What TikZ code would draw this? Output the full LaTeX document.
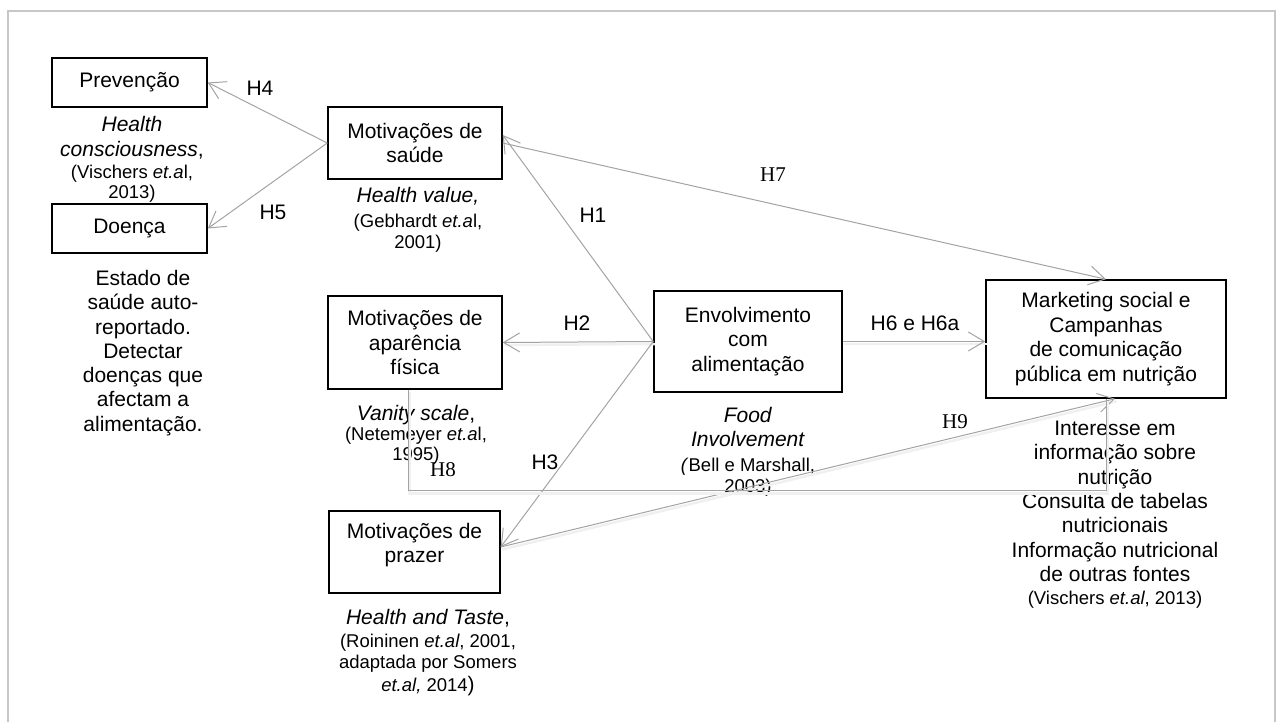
\documentclass[tikz,border=0pt]{standalone}
\usepackage{fontspec}
\setmainfont{Liberation Sans}
\newfontfamily\hserif{Liberation Serif}
\usetikzlibrary{arrows.meta}
\tikzset{
  box/.style={draw=black, line width=1.5pt, inner sep=0pt, align=center, font=\fontsize{21}{24.5}\selectfont},
  conn/.style={draw=black!36, line width=1pt, -{Straight Barb[length=16pt,width=19pt]}},
  plainconn/.style={draw=black!36, line width=1pt},
  shad/.style={preaction={draw=black!6, line width=2.5pt, arrows=-, transform canvas={xshift=1.5pt,yshift=-2.5pt}}},
  lab/.style={inner sep=0pt, font=\fontsize{21}{24.5}\selectfont},
  slab/.style={inner sep=0pt, font=\hserif\fontsize{21}{24.5}\selectfont},
  capnode/.style={inner sep=0pt, align=center, anchor=north, font=\fontsize{18.5}{21}\selectfont},
  bigcapnode/.style={inner sep=0pt, align=center, anchor=north, font=\fontsize{21}{24.3}\selectfont},
  pageframe/.style={draw=black!22, line width=1.5pt}
}
\newcommand{\bigtxt}[1]{{\fontsize{21}{24.5}\selectfont #1}}
\begin{document}
\begin{tikzpicture}[x=1pt,y=-1pt]
\useasboundingbox (0,0) rectangle (1278,722);
\draw[pageframe] (8,722) -- (8,11) -- (1275,11) -- (1275,722);

% boxes
\node[box, minimum width=155pt, minimum height=49pt] (prev) at (129.5,82.5) {Prevenção};
\node[box, minimum width=155pt, minimum height=49pt] (doenca) at (129.5,228.5) {Doença};
\node[box, minimum width=174pt, minimum height=72pt] (saude) at (415,143) {Motivações de\\saúde};
\node[box, minimum width=174pt, minimum height=93pt] (apar) at (415,342.5) {Motivações de\\aparência\\física};
\node[box, minimum width=171pt, minimum height=82pt] (prazer) at (414.5,552) {};
\node[lab, align=center] (prazerT) at (414.5,545) {Motivações de\\prazer};
\node[box, minimum width=188pt, minimum height=101pt] (envol) at (748,341.5) {Envolvimento\\com\\alimentação};
\node[box, minimum width=240pt, minimum height=118pt] (mkt) at (1106,339) {Marketing social e\\Campanhas\\de comunicação\\pública em nutrição};

% captions
\node[capnode] (prevCap) at (132,116) {\bigtxt{\textit{Health}}\\[4pt]\bigtxt{\textit{consciousness},}\\[1pt](Vischers \textit{et.a}l,\\[-1pt]2013)};
\node[capnode] (saudeCap) at (418,187) {\bigtxt{\textit{Health value,}}\\[4pt](Gebhardt \textit{et.a}l,\\2001)};
\node[capnode] (aparCap) at (416,405) {\bigtxt{\textit{Vanity scale},}\\[-1pt](Netemeyer \textit{et.a}l,\\[-1pt]1995)};
\node[capnode] (envolCap) at (748,407) {\bigtxt{\textit{Food}}\\[3.5pt]\bigtxt{\textit{Involvement}}\\[4pt]\textit{(}Bell e Marshall,\\2003)};
\node[capnode] (prazerCap) at (428,609) {\bigtxt{\textit{Health and Taste},}\\[2pt](Roininen \textit{et.al}, 2001,\\adaptada por Somers\\[2pt]\textit{et.al,} 2014\bigtxt{)}};
\node[bigcapnode] (doencaCap) at (143,270) {Estado de\\saúde auto-\\reportado.\\Detectar\\doenças que\\afectam a\\alimentação.};
\node[bigcapnode] (mktCap) at (1115,421) {Interesse em\\informação sobre\\nutrição\\Consulta de tabelas\\nutricionais\\Informação nutricional\\de outras fontes\\[-1.5pt]{\fontsize{18.5}{21}\selectfont(Vischers \textit{et.al}, 2013)}};

% connectors
\draw[conn] (saude.west) -- (prev.east);
\draw[conn] (saude.west) -- (doenca.east);
\draw[conn] (envol.west) -- ([yshift=8pt]saude.east);
\draw[conn] (saude.east) -- (mkt.north);
\draw[conn,shad] (envol.west) -- (apar.east);
\draw[conn] (envol.west) -- ([yshift=5pt]prazer.east);
\draw[conn,shad] (envol.east) -- (envol.east -| mkt.west);
\draw[conn,shad] ([yshift=5pt]prazer.east) -- ([xshift=9pt]mkt.south);
\draw[plainconn,shad] ([xshift=-7pt]apar.south) -- ++(0,101) -| (mkt.south);

% labels
\node[lab] (h4) at (260,88) {H4};
\node[lab] (h5) at (273,212) {H5};
\node[lab] (h1) at (593,215) {H1};
\node[lab] (h2) at (577,323) {H2};
\node[lab] (h3) at (545,462) {H3};
\node[lab] (h6) at (915,323) {H6 e H6a};
\node[slab] (h7) at (773,175) {H7};
\node[slab] (h8) at (443,470) {H8};
\node[slab] (h9) at (955,422) {H9};
\end{tikzpicture}
\end{document}
